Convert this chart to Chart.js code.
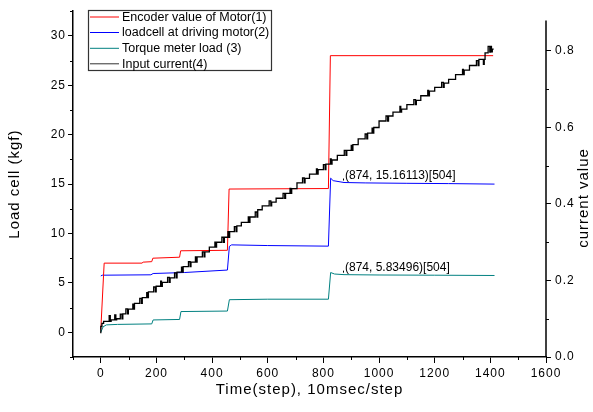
<!DOCTYPE html>
<html>
<head>
<meta charset="utf-8">
<script src="https://cdn.jsdelivr.net/npm/chart.js@4.4.1/dist/chart.umd.min.js"></script>
<style>
html, body { margin: 0; padding: 0; background: #fff; }
#wrap { width: 593px; height: 412px; }
</style>
</head>
<body>
<div id="wrap"><canvas id="c" width="593" height="412"></canvas></div>
<script>
// serie (tempo in step)
const seriesNames = ['Encoder value of Motor(1)', 'loadcell at driving motor(2)', 'Torque meter load (3)', 'Input current(4)'];

const encT = [0, 12, 148, 152, 183, 187, 283, 287, 455, 461, 818, 825, 1410];
const encV = [0.3, 7.0, 7.0, 7.1, 7.15, 7.5, 7.6, 8.25, 8.3, 14.5, 14.55, 28.0, 28.0];

const loadT = [0, 5, 180, 188, 300, 455, 462, 470, 600, 818, 826, 835, 874, 950, 1100, 1250, 1415];
const loadV = [5.7, 5.78, 5.82, 5.95, 6.05, 6.3, 8.7, 8.85, 8.78, 8.72, 15.6, 15.35, 15.16113, 15.12, 15.08, 15.05, 15.0];

const torT = [0, 8, 20, 60, 183, 188, 283, 288, 455, 462, 600, 818, 826, 840, 874, 1000, 1200, 1415];
const torV = [0.0, 0.55, 0.75, 0.8, 0.85, 1.25, 1.3, 2.1, 2.15, 3.3, 3.35, 3.35, 6.05, 5.9, 5.83496, 5.8, 5.78, 5.75];

// corrente (asse destro): [step, valore], a gradini con i picchi
const current = [
  [0, .062], [4, .080], [10, .088], [30, .093], [34, .108], [37, .093], [50, .097], [54, .110], [57, .097],
  [70, .100], [76, .112], [79, .100], [90, .113], [96, .126], [99, .113], [115, .125], [118, .138], [121, .125],
  [140, .140], [146, .153], [149, .140], [165, .155], [168, .168], [171, .155], [190, .170], [196, .183], [199, .170],
  [215, .185], [218, .198], [221, .185], [240, .195], [246, .208], [249, .195], [265, .207], [271, .220], [274, .207],
  [290, .222], [293, .235], [296, .222], [315, .236], [321, .249], [324, .236], [340, .248], [343, .262], [346, .248],
  [365, .262], [371, .275], [374, .262], [390, .275], [410, .287], [413, .300], [416, .287], [435, .300], [441, .313],
  [444, .300], [457, .313], [460, .328], [463, .313], [480, .328], [486, .341], [489, .328], [505, .343], [530, .352],
  [533, .366], [536, .352], [555, .366], [561, .379], [564, .366], [580, .385], [605, .395], [611, .408], [614, .395],
  [630, .405], [655, .415], [661, .428], [664, .415], [680, .428], [683, .441], [686, .428], [705, .440], [725, .455],
  [731, .468], [734, .455], [750, .467], [775, .478], [778, .492], [781, .478], [800, .490], [806, .503], [809, .490],
  [825, .504], [828, .518], [831, .504], [850, .515], [875, .527], [881, .540], [884, .527], [900, .540], [903, .553],
  [906, .540], [925, .555], [950, .570], [956, .583], [959, .570], [975, .585], [978, .598], [981, .585], [1000, .600],
  [1025, .617], [1031, .630], [1034, .617], [1050, .630], [1075, .640], [1078, .655], [1081, .640], [1100, .648],
  [1125, .660], [1131, .673], [1134, .660], [1150, .671], [1175, .683], [1178, .697], [1181, .683], [1200, .695],
  [1225, .705], [1231, .718], [1234, .705], [1250, .716], [1275, .726], [1300, .738], [1303, .752], [1306, .738],
  [1325, .750], [1350, .762], [1356, .775], [1359, .762], [1375, .778], [1378, .765], [1381, .778], [1392, .795],
  [1398, .812], [1401, .797], [1404, .812], [1407, .798], [1412, .805]
];

// punti marcati
const markT = [874, 874];
const markV = [15.16113, 5.83496];
const markIdx = [504, 504];

// tick
const xTicks = [0, 200, 400, 600, 800, 1000, 1200, 1400, 1600];
const xMinor = [-100, 100, 300, 500, 700, 900, 1100, 1300, 1500];
const loadTicks = [0, 5, 10, 15, 20, 25, 30];
const loadMinor = [-2.5, 2.5, 7.5, 12.5, 17.5, 22.5, 27.5, 32.5];
const curTicks = [0, 0.2, 0.4, 0.6, 0.8];
const curMinor = [0.1, 0.3, 0.5, 0.7];

const FONT = 'Arial, "Liberation Sans", sans-serif';
Chart.defaults.font.family = FONT;
Chart.defaults.color = '#000';

const toPts = (ts, vs) => ts.map((t, i) => ({ x: t, y: vs[i] }));

const extras = {
    id: 'extras',
    beforeDraw(chart) { chart.ctx.letterSpacing = '1px'; },
    afterDraw(chart) {
        const { ctx, chartArea: a, scales: { x, y, y1 } } = chart;
        ctx.save();
        ctx.letterSpacing = '0px';
        ctx.strokeStyle = '#000';

        // tick minori
        ctx.lineWidth = 1;
        ctx.beginPath();
        xMinor.forEach(v => {
            const px = Math.round(x.getPixelForValue(v)) + 0.5;
            ctx.moveTo(px, a.bottom); ctx.lineTo(px, a.bottom + 3);
        });
        loadMinor.forEach(v => {
            const py = Math.round(y.getPixelForValue(v)) + 0.5;
            ctx.moveTo(a.left - 3, py); ctx.lineTo(a.left, py);
        });
        curMinor.forEach(v => {
            const py = Math.round(y1.getPixelForValue(v)) + 0.5;
            ctx.moveTo(a.right, py); ctx.lineTo(a.right + 3, py);
        });
        ctx.stroke();

        // asse destro (più corto)
        ctx.lineWidth = 1.5;
        ctx.beginPath();
        ctx.moveTo(a.right, y1.getPixelForValue(0.88));
        ctx.lineTo(a.right, a.bottom);
        ctx.stroke();

        // titoli
        ctx.fillStyle = '#000';
        ctx.font = '15px ' + FONT;
        ctx.letterSpacing = '1px';
        ctx.textAlign = 'center';
        ctx.textBaseline = 'middle';
        ctx.fillText('Time(step), 10msec/step', (a.left + a.right) / 2, 390);
        ctx.save();
        ctx.translate(15, (a.top + a.bottom) / 2);
        ctx.rotate(-Math.PI / 2);
        ctx.fillText('Load cell (kgf)', 0, 0);
        ctx.restore();
        ctx.save();
        ctx.translate(584, 198);
        ctx.rotate(-Math.PI / 2);
        ctx.fillText('current value', 0, 0);
        ctx.restore();

        // etichette dei punti
        ctx.letterSpacing = '0px';
        ctx.font = '12px ' + FONT;
        ctx.textAlign = 'left';
        ctx.textBaseline = 'alphabetic';
        markT.forEach((t, i) => {
            const px = x.getPixelForValue(t);
            const py = y.getPixelForValue(markV[i]);
            ctx.fillText(`(${t}, ${markV[i]})[${markIdx[i]}]`, px + 1, py - 4);
            ctx.fillRect(px - 1, py - 4, 1, 2);
        });

        // legenda
        ctx.strokeStyle = '#333';
        ctx.lineWidth = 1.2;
        ctx.strokeRect(88.5, 10.5, 183, 60);
        ctx.font = '12.5px ' + FONT;
        ctx.textBaseline = 'middle';
        const rows = [16.5, 32, 47.8, 63.3];
        chart.data.datasets.forEach((ds, i) => {
            ctx.strokeStyle = i === 3 ? '#333' : ds.borderColor;
            ctx.lineWidth = 1;
            ctx.beginPath();
            ctx.moveTo(90, rows[i] + 0.5); ctx.lineTo(119, rows[i] + 0.5);
            ctx.stroke();
            ctx.fillText(ds.label, 122, rows[i] + 1);
        });
        ctx.restore();
    }
};

const lineDs = (label, pts, color, axis, order, extra) => Object.assign({
    label: label,
    data: pts,
    borderColor: color,
    backgroundColor: color,
    borderWidth: 1,
    pointRadius: 0,
    tension: 0,
    yAxisID: axis,
    order: order
}, extra || {});

new Chart(document.getElementById('c'), {
    type: 'line',
    data: {
        datasets: [
            lineDs(seriesNames[0], toPts(encT, encV), '#ff0000', 'y', 1),
            lineDs(seriesNames[1], toPts(loadT, loadV), '#0000ff', 'y', 2),
            lineDs(seriesNames[2], toPts(torT, torV), '#008080', 'y', 3),
            lineDs(seriesNames[3], current.map(p => ({ x: p[0], y: p[1] })), '#000000', 'y1', 0,
                { stepped: 'after', borderWidth: 1.3 })
        ]
    },
    options: {
        responsive: false,
        animation: false,
        layout: { padding: { top: 8, left: 0, right: 0, bottom: 0 } },
        plugins: { legend: { display: false }, tooltip: { enabled: false } },
        scales: {
            x: {
                type: 'linear',
                min: -100, max: 1600,
                afterBuildTicks: s => { s.ticks = xTicks.map(v => ({ value: v })); },
                afterFit: s => { s.height = 55; },
                ticks: { font: { size: 12 }, padding: 3, maxRotation: 0, autoSkip: false, callback: v => String(v) },
                grid: { drawOnChartArea: false, tickLength: 6, color: '#000' },
                border: { color: '#000', width: 1.5 }
            },
            y: {
                position: 'left',
                min: -2.5, max: 32.5,
                afterBuildTicks: s => { s.ticks = loadTicks.map(v => ({ value: v })); },
                afterFit: s => { s.width = 73; },
                ticks: { font: { size: 12 }, padding: 2, callback: v => String(v) },
                grid: { drawOnChartArea: false, tickLength: 5, color: '#000' },
                border: { color: '#000', width: 1.5 }
            },
            y1: {
                position: 'right',
                min: 0, max: 0.904,
                afterBuildTicks: s => { s.ticks = curTicks.map(v => ({ value: v })); },
                afterFit: s => { s.width = 47; },
                ticks: { font: { size: 12 }, padding: 4, callback: v => v.toFixed(1) },
                grid: { drawOnChartArea: false, tickLength: 5, color: '#000' },
                border: { display: false }
            }
        }
    },
    plugins: [extras]
});
</script>
</body>
</html>
